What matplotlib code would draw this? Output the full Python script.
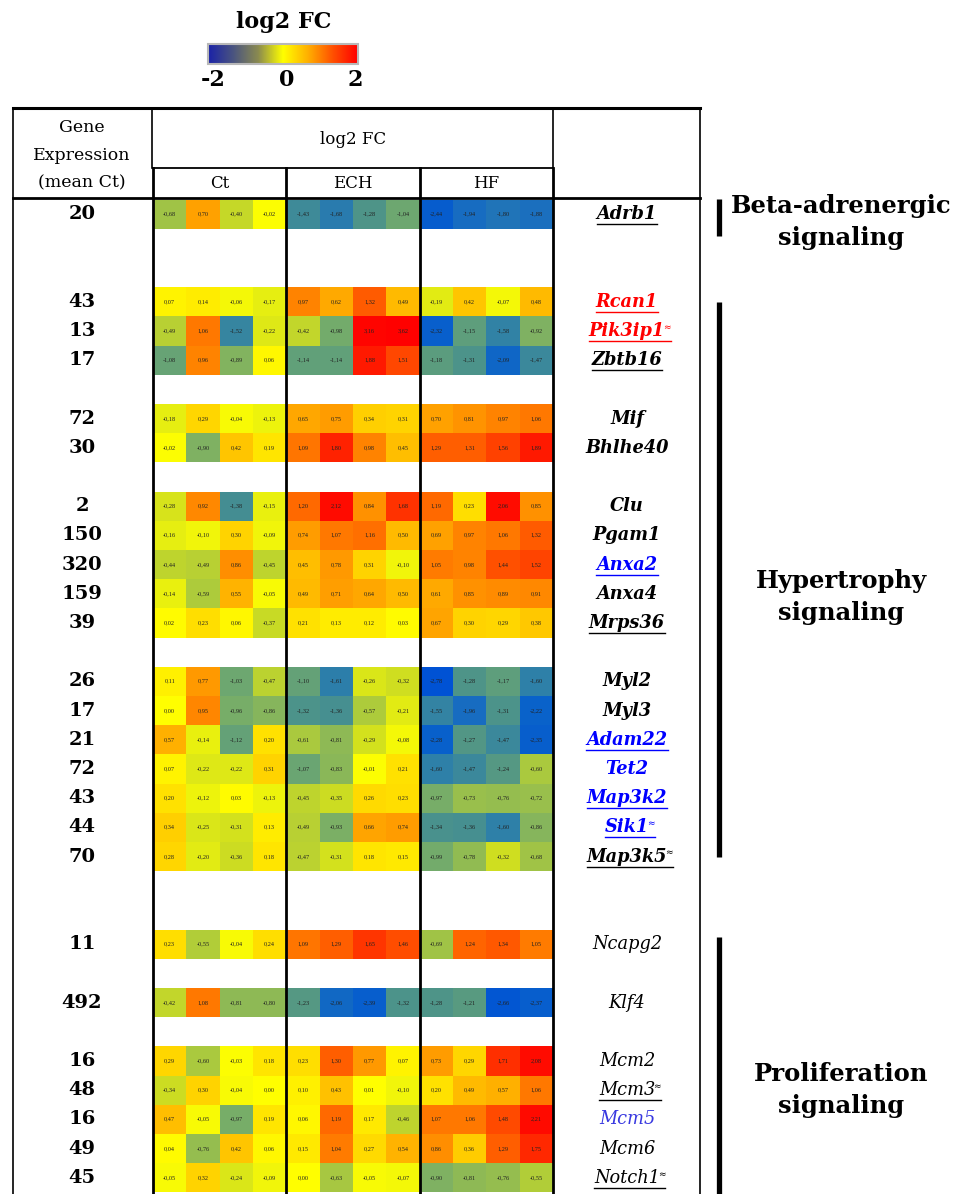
import numpy as np
import matplotlib.pyplot as plt
from matplotlib.colors import LinearSegmentedColormap
from matplotlib.patches import Rectangle

# ---- data ----
genes = ["Adrb1", "Rcan1", "Pik3ip1", "Zbtb16", "Mif", "Bhlhe40", "Clu", "Pgam1",
         "Anxa2", "Anxa4", "Mrps36", "Myl2", "Myl3", "Adam22", "Tet2", "Map3k2",
         "Sik1", "Map3k5", "Ncapg2", "Klf4", "Mcm2", "Mcm3", "Mcm5", "Mcm6", "Notch1"]
mean_ct = [20, 43, 13, 17, 72, 30, 2, 150, 320, 159, 39, 26, 17, 21, 72, 43,
           44, 70, 11, 492, 16, 48, 16, 49, 45]
# empty rows left above each gene (groups)
gap_before = [0, 2, 0, 0, 1, 0, 1, 0, 0, 0, 0, 1, 0, 0, 0, 0, 0, 0, 2, 1, 1, 0, 0, 0, 0]

ct_vals = [
    [-0.68, 0.70, -0.40, -0.02], [0.07, 0.14, -0.06, -0.17], [-0.49, 1.06, -1.52, -0.22],
    [-1.08, 0.96, -0.89, 0.06], [-0.18, 0.29, -0.04, -0.13], [-0.02, -0.90, 0.42, 0.19],
    [-0.28, 0.92, -1.38, -0.15], [-0.16, -0.10, 0.30, -0.09], [-0.44, -0.49, 0.86, -0.45],
    [-0.14, -0.59, 0.55, -0.05], [0.02, 0.23, 0.06, -0.37], [0.11, 0.77, -1.03, -0.47],
    [0.00, 0.95, -0.96, -0.86], [0.57, -0.14, -1.12, 0.20], [0.07, -0.22, -0.22, 0.31],
    [0.20, -0.12, 0.03, -0.13], [0.34, -0.25, -0.31, 0.13], [0.28, -0.20, -0.36, 0.18],
    [0.23, -0.55, -0.04, 0.24], [-0.42, 1.08, -0.81, -0.80], [0.29, -0.60, -0.03, 0.18],
    [-0.34, 0.30, -0.04, 0.00], [0.47, -0.05, -0.97, 0.19], [0.04, -0.76, 0.42, 0.06],
    [-0.05, 0.32, -0.24, -0.09]]
ech_vals = [
    [-1.43, -1.68, -1.28, -1.04], [0.97, 0.62, 1.32, 0.49], [-0.42, -0.98, 3.16, 3.62],
    [-1.14, -1.14, 1.88, 1.51], [0.65, 0.75, 0.34, 0.31], [1.09, 1.80, 0.98, 0.45],
    [1.20, 2.12, 0.84, 1.68], [0.74, 1.07, 1.16, 0.50], [0.45, 0.78, 0.31, -0.10],
    [0.49, 0.71, 0.64, 0.50], [0.21, 0.13, 0.12, 0.03], [-1.10, -1.61, -0.26, -0.32],
    [-1.32, -1.36, -0.57, -0.21], [-0.61, -0.81, -0.29, -0.08], [-1.07, -0.83, -0.01, 0.21],
    [-0.45, -0.35, 0.26, 0.23], [-0.49, -0.93, 0.66, 0.74], [-0.47, -0.31, 0.18, 0.15],
    [1.09, 1.29, 1.65, 1.46], [-1.23, -2.06, -2.39, -1.32], [0.23, 1.30, 0.77, 0.07],
    [0.10, 0.43, 0.01, -0.10], [0.06, 1.19, 0.17, -0.46], [0.15, 1.04, 0.27, 0.54],
    [0.00, -0.63, -0.05, -0.07]]
hf_vals = [
    [-2.44, -1.94, -1.80, -1.88], [-0.19, 0.42, -0.07, 0.48], [-2.32, -1.15, -1.58, -0.92],
    [-1.18, -1.31, -2.09, -1.47], [0.70, 0.81, 0.97, 1.06], [1.29, 1.31, 1.56, 1.89],
    [1.19, 0.23, 2.06, 0.85], [0.69, 0.97, 1.06, 1.32], [1.05, 0.98, 1.44, 1.52],
    [0.61, 0.85, 0.89, 0.91], [0.67, 0.30, 0.29, 0.38], [-2.78, -1.28, -1.17, -1.60],
    [-1.55, -1.96, -1.31, -2.22], [-2.28, -1.27, -1.47, -2.35], [-1.60, -1.47, -1.24, -0.60],
    [-0.97, -0.73, -0.76, -0.72], [-1.34, -1.36, -1.60, -0.86], [-0.99, -0.78, -0.32, -0.68],
    [-0.69, 1.24, 1.34, 1.05], [-1.28, -1.21, -2.66, -2.37], [0.73, 0.29, 1.71, 2.08],
    [0.20, 0.49, 0.57, 1.06], [1.07, 1.06, 1.48, 2.21], [0.86, 0.36, 1.29, 1.75],
    [-0.90, -0.81, -0.76, -0.55]]
groups = ["Ct", "ECH", "HF"]
pathways = ["Beta-adrenergic\nsignaling", "Hypertrophy\nsignaling", "Proliferation\nsignaling"]
pathway_genes = [("Adrb1", "Adrb1"), ("Rcan1", "Map3k5"), ("Ncapg2", "Notch1")]

# gene label styles
red_genes = {"Rcan1", "Pik3ip1"}
blue_genes = {"Anxa2", "Adam22", "Tet2", "Map3k2", "Sik1"}
light_blue_genes = {"Mcm5"}
underlined = {"Adrb1", "Rcan1", "Pik3ip1", "Zbtb16", "Anxa2", "Mrps36", "Adam22",
              "Map3k2", "Sik1", "Map3k5", "Mcm3", "Notch1"}
approx_mark = {"Pik3ip1", "Sik1", "Map3k5", "Mcm3", "Notch1"}
regular_weight = {"Ncapg2", "Klf4", "Mcm2", "Mcm3", "Mcm5", "Mcm6", "Notch1"}

# ---- colour scale ----
vmin, vmax = -2.8, 3.7
stops = [(-2.8, "#0052d4"), (-2.2, "#0a63c9"), (-1.9, "#1a6ebf"), (-1.6, "#2e80a8"),
         (-1.3, "#4e9488"), (-1.0, "#72aa6c"), (-0.7, "#9ec248"), (-0.35, "#ccdc22"),
         (0.0, "#ffff00"), (0.3, "#ffd400"), (0.6, "#ffab00"), (1.0, "#ff8000"),
         (1.5, "#ff4800"), (2.0, "#ff0c00"), (3.7, "#ff0000")]
cmap = LinearSegmentedColormap.from_list(
    "fc", [((v - vmin) / (vmax - vmin), c) for v, c in stops])
bar_cmap = LinearSegmentedColormap.from_list(
    "fcbar", ["#1a22a8", "#4a5480", "#8a8a50", "#ffff00", "#ffb000", "#ff5000", "#ff0000"])

serif = "DejaVu Serif"

fig = plt.figure(figsize=(9.61, 11.94), dpi=100)
ax = fig.add_axes([0, 0, 1, 1])

# ---- layout (pixels) ----
heat_x0, heat_x1 = 153, 553
top, slot_h = 199.5, 29.2
slots = np.cumsum(np.array(gap_before) + 1) - 1
n_slots = slots[-1] + 1
y_cent = top + (slots + 0.5) * slot_h

M = np.full((n_slots, 12), np.nan)
for i, s in enumerate(slots):
    M[s] = ct_vals[i] + ech_vals[i] + hf_vals[i]
x_edges = np.linspace(heat_x0, heat_x1, 13)
y_edges = top + np.arange(n_slots + 1) * slot_h
ax.pcolormesh(x_edges, y_edges, np.ma.masked_invalid(M), cmap=cmap, vmin=vmin, vmax=vmax)

x_cent = (x_edges[:-1] + x_edges[1:]) / 2
for i, s in enumerate(slots):
    for j, v in enumerate(M[s]):
        ax.text(x_cent[j], y_cent[i], f"{v:.2f}".replace(".", ","), fontsize=4.5,
                ha="center", va="center", family="Liberation Serif", color="#222222")

# ---- table frame ----
black = "black"
ax.plot([13, 700], [108, 108], color=black, lw=2.2)
ax.plot([13, 700], [198, 198], color=black, lw=2.0)
ax.plot([heat_x0, heat_x1], [168, 168], color=black, lw=1.3)
ax.plot([13, 13], [108, 1194], color=black, lw=1.2)
ax.plot([700, 700], [108, 1194], color=black, lw=1.2)
ax.plot([152, 152], [108, 168], color=black, lw=1.2)
ax.plot([553, 553], [108, 168], color=black, lw=1.2)
for xb in x_edges[::4]:
    ax.plot([xb, xb], [168, 1194], color=black, lw=2.0)

ax.text(82, 127, "Gene", fontsize=12.5, ha="center", va="center", family=serif)
ax.text(82, 155, "Expression", fontsize=12.5, ha="center", va="center", family=serif)
ax.text(82, 183, "(mean Ct)", fontsize=12.5, ha="center", va="center", family=serif)
ax.text((heat_x0 + heat_x1) / 2, 139, "log2 FC", fontsize=12, ha="center", va="center",
        family=serif)
for k, g in enumerate(groups):
    ax.text(x_edges[4 * k:4 * k + 5].mean(), 184, g, fontsize=12, ha="center",
            va="center", family=serif)

# ---- mean Ct and gene names ----
name_texts = []
for i, g in enumerate(genes):
    ax.text(82, y_cent[i], str(mean_ct[i]), fontsize=14, weight="bold", ha="center",
            va="center", family=serif)
    col = "black"
    if g in red_genes:
        col = "#ff0000"
    elif g in blue_genes:
        col = "#0000ff"
    elif g in light_blue_genes:
        col = "#3838e0"
    wt = "normal" if g in regular_weight else "bold"
    t = ax.text(627, y_cent[i], g, fontsize=12.8, style="italic", weight=wt, color=col,
                ha="center", va="center", family=serif)
    name_texts.append((g, t, col))

# ---- colour bar ----
grad = np.linspace(0, 1, 256)[None, :]
ax.imshow(grad, extent=(208, 358, 63, 45), cmap=bar_cmap, aspect="auto")
ax.add_patch(Rectangle((208, 44), 150, 20, fill=False, edgecolor="#b8b8b8", lw=1.5))
ax.text(284, 22, "log2 FC", fontsize=16, weight="bold", ha="center", va="center",
        family=serif)
for v, xv in zip([-2, 0, 2], [213, 287, 355]):
    ax.text(xv, 80, str(v), fontsize=16, weight="bold", ha="center", va="center",
            family=serif)

# ---- pathway bars and labels ----
for (g0, g1), lab in zip(pathway_genes, pathways):
    i0, i1 = genes.index(g0), genes.index(g1)
    if g0 == g1:
        y0, y1 = y_cent[i0] - 15, y_cent[i0] + 22
        ym = y_cent[i0] + 8
    elif i1 == len(genes) - 1:
        y0, y1 = y_cent[i0] - 7, 1194
        ym = 1090
    else:
        y0, y1 = y_cent[i0], y_cent[i1]
        ym = 597
    ax.plot([719, 719], [y0, y1], color=black, lw=3.8, solid_capstyle="butt")
    ax.text(841, ym, lab, fontsize=17.5, weight="bold", ha="center", va="center",
            family=serif, linespacing=1.4)

ax.set_xlim(0, 961)
ax.set_ylim(1194, 0)
ax.axis("off")

# underlines and approx marks need text extents
fig.canvas.draw()
rend = fig.canvas.get_renderer()
inv = ax.transData.inverted()
for g, t, col in name_texts:
    bb = t.get_window_extent(rend)
    (x0, yb), (x1, yt) = inv.transform([[bb.x0, bb.y0], [bb.x1, bb.y1]])
    if g in approx_mark:
        m = ax.text(x1 - 2, yt + 1, "\u2248", fontsize=6.5, color=col, ha="left",
                    va="top", family="DejaVu Sans")
        mb = m.get_window_extent(rend)
        x1 = inv.transform([[mb.x1, mb.y1]])[0][0]
    if g in underlined:
        ax.plot([x0, x1], [yb + 1, yb + 1], color=col, lw=1.0)

fig.savefig("out.png", dpi=100)
